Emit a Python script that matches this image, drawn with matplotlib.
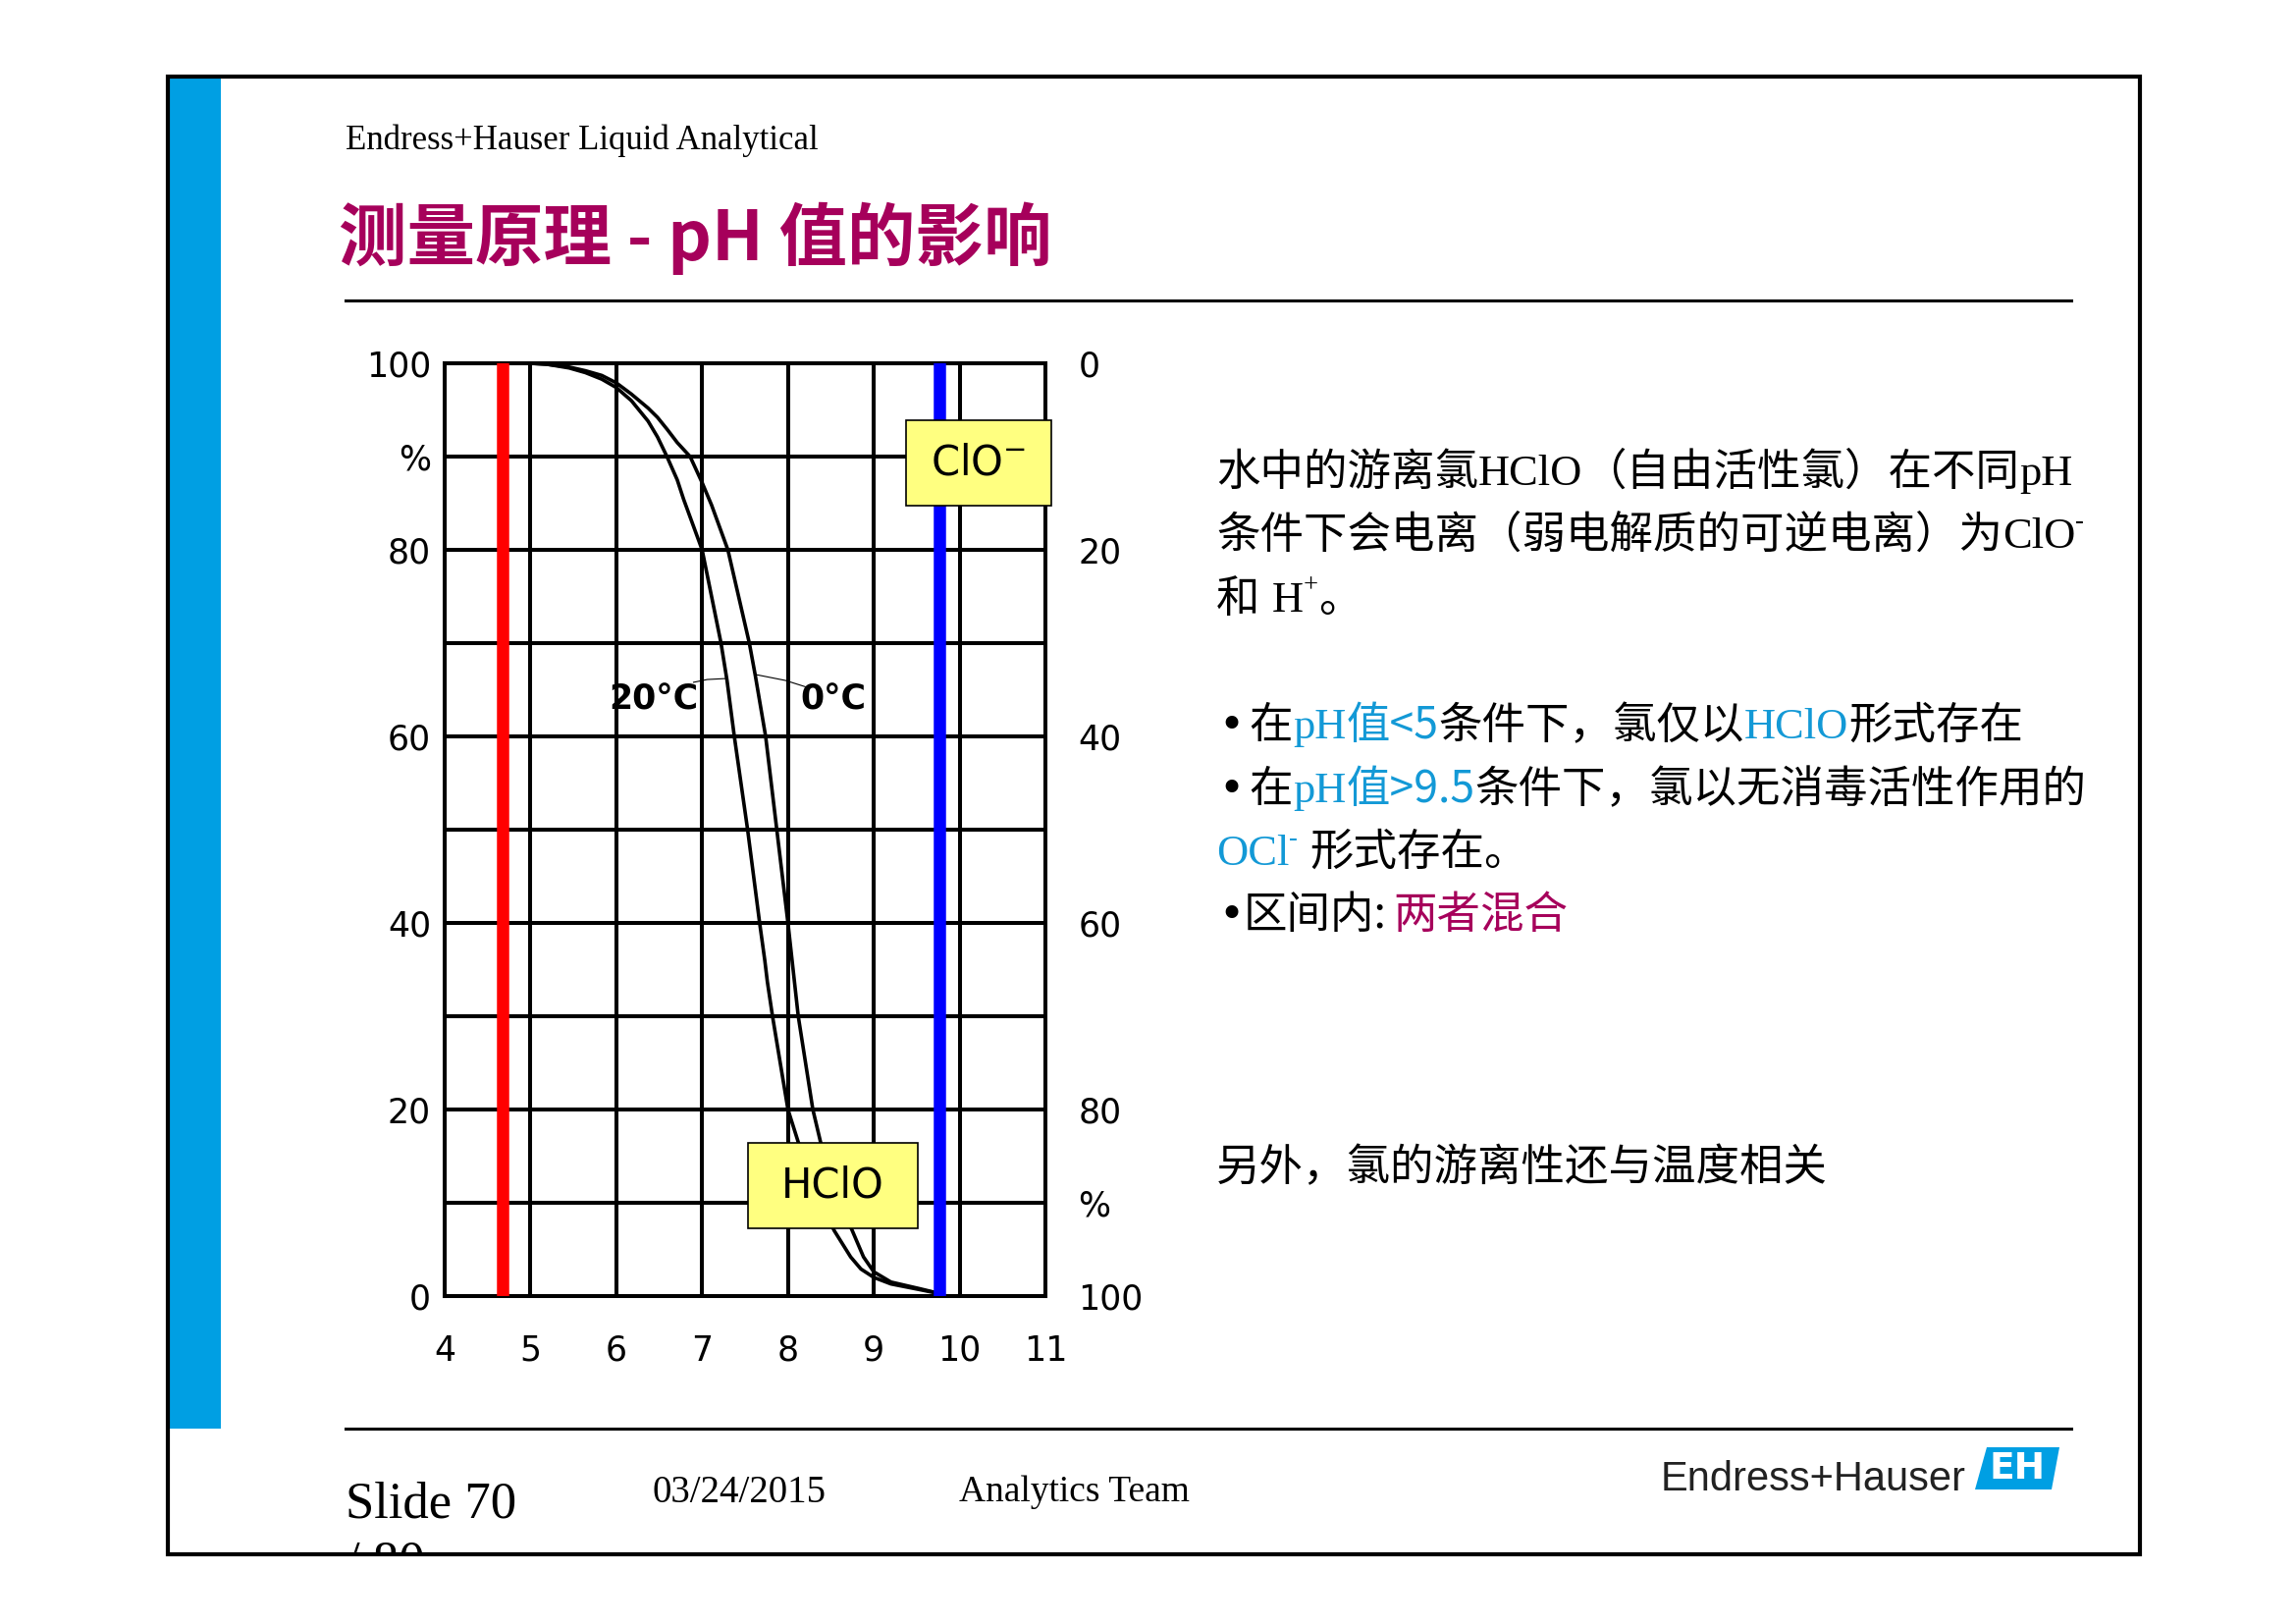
import numpy as np
import matplotlib
matplotlib.use('Agg')
import matplotlib.pyplot as plt
from matplotlib.patches import Rectangle, Polygon
from matplotlib.lines import Line2D

# ── data ────────────────────────────────────────────────────────────────────
ph_ticks = [4, 5, 6, 7, 8, 9, 10, 11]
pct_ticks = [0, 10, 20, 30, 40, 50, 60, 70, 80, 90, 100]
pct_labels = ['0', '', '20', '', '40', '', '60', '', '80', '%', '100']

# HClO share (%) against pH, 20 °C curve
ph_20 = [5.0, 5.19, 5.45, 5.64, 5.83, 6.0, 6.175, 6.37, 6.48, 6.59, 6.71, 6.785,
         7.0, 7.22, 7.29, 7.375, 7.53, 7.67, 7.73, 7.76, 7.82, 8.0, 8.12, 8.3,
         8.54, 8.73, 8.85, 9.0, 9.2, 9.53, 9.8]
pct_20 = [100, 99.9, 99.5, 99.0, 98.3, 97.4, 96.0, 93.8, 92.1, 90, 87.5, 85.4,
          80, 70, 66, 60, 50, 40, 36, 33.7, 30, 20, 16.5, 11.3,
          7.0, 4.2, 2.9, 2.0, 1.3, 0.7, 0.2]

# HClO share (%) against pH, 0 °C curve
ph_0 = [5.0, 5.19, 5.45, 5.64, 5.83, 6.0, 6.175, 6.37, 6.48, 6.594, 6.71, 6.86,
        7.0, 7.11, 7.30, 7.45, 7.55, 7.62, 7.74, 7.87, 8.0, 8.06, 8.12, 8.29,
        8.38, 8.55, 8.75, 8.88, 9.0, 9.2, 9.53, 9.8]
pct_0 = [100, 99.9, 99.6, 99.2, 98.7, 97.9, 96.7, 95.2, 94.2, 92.9, 91.5, 90,
         87.2, 84.8, 80, 74, 70, 66.5, 60, 50, 40, 35, 30, 20,
         16.5, 11, 7.0, 4.2, 2.6, 1.5, 0.8, 0.2]

ph_low_limit = 4.68    # red marker
ph_high_limit = 9.76   # blue marker

lead_20_x = [6.90, 7.06, 7.27]
lead_20_y = [65.8, 66.1, 66.2]
lead_0_x = [7.64, 7.97, 8.21]
lead_0_y = [66.6, 66.0, 65.3]

W, H = 2339, 1654
CJK = ['Noto Sans CJK SC', 'DejaVu Sans']
SERIF = ['Liberation Serif', 'Noto Sans CJK SC', 'DejaVu Sans']
SANS = ['DejaVu Sans']
MAGENTA = '#a6005b'
EH_BLUE = '#009fe3'
TXT_BLUE = '#1399d6'


def fx(x):
    return x / W


def fy(y):
    return 1 - y / H


fig = plt.figure(figsize=(W / 100, H / 100), dpi=100)
fig.patch.set_facecolor('white')

# ── chart ───────────────────────────────────────────────────────────────────
ax = fig.add_axes([fx(453), fy(1320), (1065 - 453) / W, (1320 - 370) / H])
ax.set_xlim(4, 11)
ax.set_ylim(0, 100)
ax.set_xticks(ph_ticks)
ax.set_xticklabels([str(v) for v in ph_ticks])
ax.set_yticks(pct_ticks)
ax.set_yticklabels(pct_labels)
ax.grid(True, color='black', lw=2.9)
ax.tick_params(length=0, labelsize=25)
ax.tick_params(axis='y', pad=10)
ax.tick_params(axis='x', pad=28)
for sp in ax.spines.values():
    sp.set_linewidth(2.9)

ax2 = ax.twinx()
ax2.set_ylim(100, 0)
ax2.set_yticks(pct_ticks)
ax2.set_yticklabels(pct_labels)
ax2.tick_params(length=0, labelsize=25, pad=24)
for sp in ax2.spines.values():
    sp.set_visible(False)

ax.plot(ph_20, pct_20, color='black', lw=2.6, solid_joinstyle='round', zorder=3)
ax.plot(ph_0, pct_0, color='black', lw=2.6, solid_joinstyle='round', zorder=3)
ax.axvline(ph_low_limit, color='#ff0000', lw=9, zorder=4)
ax.axvline(ph_high_limit, color='#0000ff', lw=9, zorder=4)

ax.plot(lead_20_x, lead_20_y, color='black', lw=0.8, zorder=3)
ax.plot(lead_0_x, lead_0_y, color='black', lw=0.8, zorder=3)
ax.text(6.43, 63.9, '20°C', fontsize=25, fontweight='bold', ha='center', va='center')
ax.text(8.53, 63.9, '0°C', fontsize=25, fontweight='bold', ha='center', va='center')

# yellow tags
for (x0, x1, y0, y1), label in [((9.371, 11.074, 84.74, 93.89), r'ClO$^{-}$'),
                                ((7.531, 9.509, 7.26, 16.42), 'HClO')]:
    ax.add_patch(Rectangle((x0, y0), x1 - x0, y1 - y0, facecolor='#ffff80',
                           edgecolor='black', lw=1.2, zorder=6, clip_on=False))
    ax.text((x0 + x1) / 2, (y0 + y1) / 2, label, fontsize=30, ha='center',
            va='center', zorder=7, clip_on=False)

# ── slide frame ─────────────────────────────────────────────────────────────
fig.add_artist(Rectangle((fx(172), fy(1455)), (225 - 172) / W, (1455 - 80) / H,
                         transform=fig.transFigure, facecolor=EH_BLUE, lw=0, zorder=2))
fig.add_artist(Rectangle((0, 0), 1, fy(1583), transform=fig.transFigure,
                         facecolor='white', lw=0, zorder=3))
fig.add_artist(Rectangle((fx(171), fy(1583)), (2180 - 171) / W, (1583 - 78) / H,
                         transform=fig.transFigure, fill=False, edgecolor='black',
                         lw=3, zorder=4))
for y in (306, 1455):
    fig.add_artist(Line2D([fx(352), fx(2110)], [fy(y), fy(y)], color='black',
                          lw=2.2, transform=fig.transFigure))

fig.text(fx(352), fy(152), 'Endress+Hauser Liquid Analytical', fontsize=25,
         family=SERIF, va='baseline')
fig.text(fx(345), fy(265), '测量原理 - pH 值的影响', fontsize=50, fontweight='bold',
         color=MAGENTA, family=CJK, va='baseline')

# footer
fig.text(fx(352), fy(1545), 'Slide 70', fontsize=38, family=SERIF, va='baseline', zorder=1)
fig.text(fx(352), fy(1605), '/ 80', fontsize=38, family=SERIF, va='baseline', zorder=1)
fig.text(fx(664), fy(1530), '03/24/2015', fontsize=28, family=SERIF, va='baseline')
fig.text(fx(977), fy(1529), 'Analytics Team', fontsize=27, family=SERIF, va='baseline')
fig.text(fx(1692), fy(1518), 'Endress+Hauser', fontsize=30, family='Liberation Sans',
         color='#222222', va='baseline')
logo = [(2012, 1517), (2024, 1474), (2098, 1474), (2090, 1517)]
fig.add_artist(Polygon([(fx(x), fy(y)) for x, y in logo], closed=True,
                       transform=fig.transFigure, facecolor=EH_BLUE, lw=0, zorder=2))
fig.text(fx(2055), fy(1496), 'EH', fontsize=27, fontweight='bold', color='white',
         ha='center', va='center', zorder=3)

# ── right-hand text ─────────────────────────────────────────────────────────
renderer = fig.canvas.get_renderer()
FAMILIES = {'cjk': CJK, 'serif': SERIF, 'sans': SANS}


def rich_line(x_px, base_px, parts, size=32):
    """parts: (text, colour, family key, superscript?, gap before in em)"""
    x = x_px
    em = size * 100 / 72
    for text, color, fam, sup, gap in parts:
        x += gap * em
        fs = size * 0.6 if sup else size
        dy = 0.45 * em if sup else 0
        t = fig.text(fx(x), fy(base_px - dy), text, color=color, fontsize=fs,
                     family=FAMILIES[fam], va='baseline')
        x = t.get_window_extent(renderer=renderer).x1


K = 'black'
rich_line(1239, 494, [('水中的游离氯', K, 'cjk', False, 0), ('HClO', K, 'serif', False, 0),
                      ('（自由活性氯）在不同', K, 'cjk', False, 0), ('pH', K, 'serif', False, 0)])
rich_line(1239, 558, [('条件下会电离（弱电解质的可逆电离）为', K, 'cjk', False, 0),
                      ('ClO', K, 'serif', False, 0), ('-', K, 'serif', True, 0)])
rich_line(1239, 623, [('和', K, 'cjk', False, 0), ('H', K, 'serif', False, 0.28),
                      ('+', K, 'serif', True, 0), ('。', K, 'cjk', False, 0)])
rich_line(1241, 752, [('•', K, 'sans', False, 0), ('在', K, 'cjk', False, 0.12),
                      ('pH', TXT_BLUE, 'serif', False, 0),
                      ('值<5', TXT_BLUE, 'cjk', False, 0), ('条件下，氯仅以', K, 'cjk', False, 0),
                      ('HClO', TXT_BLUE, 'serif', False, 0), ('形式存在', K, 'cjk', False, 0)])
rich_line(1241, 817, [('•', K, 'sans', False, 0), ('在', K, 'cjk', False, 0.12),
                      ('pH', TXT_BLUE, 'serif', False, 0),
                      ('值>9.5', TXT_BLUE, 'cjk', False, 0),
                      ('条件下，氯以无消毒活性作用的', K, 'cjk', False, 0)])
rich_line(1239, 881, [('OCl', TXT_BLUE, 'serif', False, 0), ('-', TXT_BLUE, 'serif', True, 0),
                      ('形式存在。', K, 'cjk', False, 0.28)])
rich_line(1241, 945, [('•', K, 'sans', False, 0), ('区间内:', K, 'cjk', False, 0),
                      ('两者混合', MAGENTA, 'cjk', False, 0.15)])
rich_line(1239, 1202, [('另外，氯的游离性还与温度相关', K, 'cjk', False, 0)])

fig.savefig('out.png', dpi=100)
